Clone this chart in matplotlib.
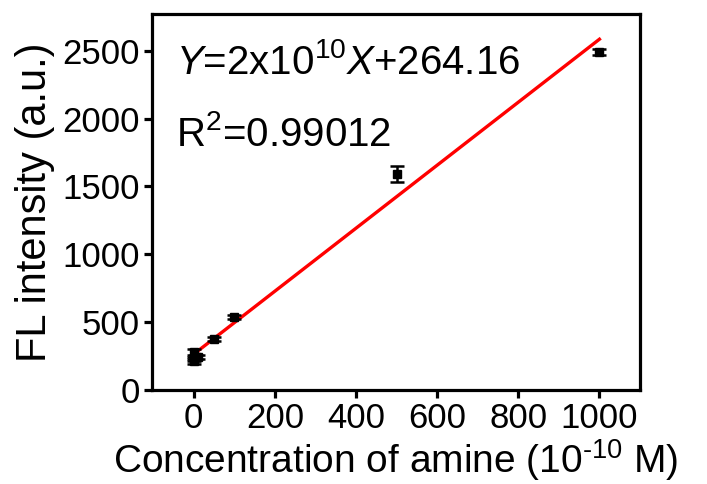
import numpy as np
import matplotlib
matplotlib.use('Agg')
from matplotlib import pyplot as plt

# data
conc = [0, 0, 1, 5, 10, 50, 100, 500, 1000]
intensity = [280, 210, 225, 245, 240, 375, 540, 1590, 2490]
errors = [25, 20, 15, 15, 15, 15, 15, 60, 20]

fit_slope = 2.32
fit_intercept = 264.16
fit_range = [0, 1000]

x_ticks = [0, 200, 400, 600, 800, 1000]
y_ticks = [0, 500, 1000, 1500, 2000, 2500]

plt.rcParams['font.family'] = ['Liberation Sans', 'DejaVu Sans']
plt.rcParams['mathtext.fontset'] = 'custom'
plt.rcParams['mathtext.rm'] = 'Liberation Sans'
plt.rcParams['mathtext.it'] = 'Liberation Sans:italic'

fig = plt.figure(figsize=(7.07, 4.84), dpi=100)
ax = fig.add_axes([152 / 707, 94 / 484, 488 / 707, 376 / 484])

fx = np.array(fit_range)
ax.plot(fx, fit_slope * fx + fit_intercept, color='#ff0000', lw=2.4, zorder=2)
ax.errorbar(conc, intensity, yerr=errors, fmt='s', color='black', ms=6,
            capsize=5, elinewidth=1.8, capthick=1.8, zorder=3)

ax.set_xlim(-103, 1100)
ax.set_ylim(0, 2770)
ax.set_xticks(x_ticks)
ax.set_yticks(y_ticks)
ax.tick_params(labelsize=25, width=2.3, length=6, direction='out', pad=3)
for s in ax.spines.values():
    s.set_linewidth(2.3)

ax.set_xlabel('Concentration of amine (10$^{\\text{-10}}$ M)', fontsize=28, labelpad=1)
ax.set_ylabel('FL intensity (a.u.)', fontsize=30, labelpad=5)

ax.text(0.05, 0.87, '$Y$=2x10$^{10}$$X$+264.16', transform=ax.transAxes,
        fontsize=29, va='center')
ax.text(0.05, 0.68, 'R$^2$=0.99012', transform=ax.transAxes,
        fontsize=29, va='center')

fig.savefig('out.png', dpi=100)
